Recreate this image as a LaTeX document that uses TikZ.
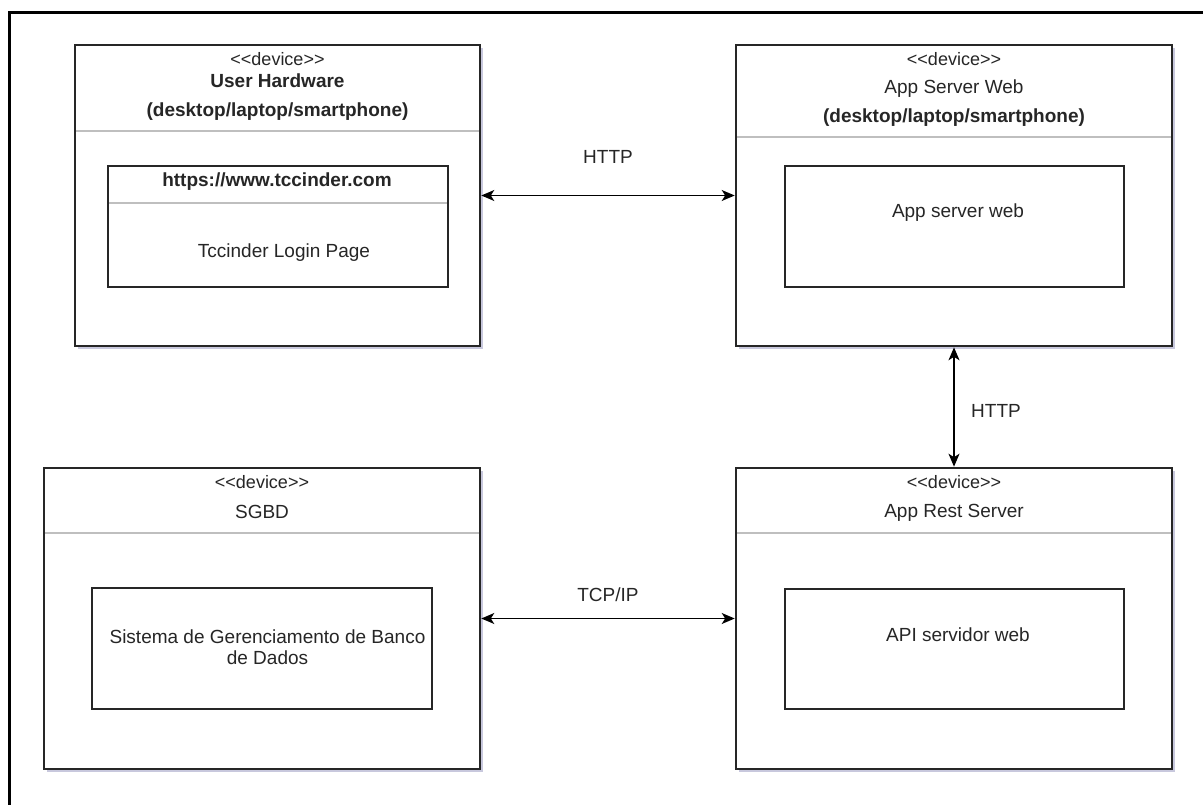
\documentclass[tikz,border=0pt]{standalone}
\usepackage{fontspec}
\setmainfont{Liberation Sans}
\usepackage{tikz}
\usetikzlibrary{arrows.meta}
\usetikzlibrary{shadows}

\newcommand{\devtag}{<\kern0pt<device>\kern0pt>}

\tikzset{
  devbox/.style={draw=black!85, line width=2.6pt, fill=white, inner sep=0pt,
    drop shadow={shadow xshift=3pt, shadow yshift=-3pt, fill=blue!25!gray, opacity=0.35}},
  partbox/.style={draw=black!85, line width=2.6pt, fill=white, inner sep=0pt},
  sepline/.style={draw=gray!50, line width=1.2pt},
  tag/.style={inner sep=0pt, anchor=base, text=black!85, font=\fontsize{18}{21}\selectfont},
  txt/.style={inner sep=0pt, anchor=base, text=black!85, font=\fontsize{19}{21}\selectfont},
  btxt/.style={txt, font=\fontsize{19}{21}\selectfont\bfseries},
  link/.style={<->, >={Stealth[length=13pt,width=11pt,inset=3.5pt]}, line width=1.5pt},
}

\begin{document}
\begin{tikzpicture}[x=1pt, y=-1pt]
\useasboundingbox (0,0) rectangle (1203,805);
\draw[line width=3pt] (9.5,805) -- (9.5,12.5) -- (1203,12.5);

% devices
\node (uh) [devbox, minimum width=405pt, minimum height=301pt] at (277.5,195.5) {};
\node (asw) [devbox, minimum width=436pt, minimum height=301pt] at (954,195.5) {};
\node (sgbd) [devbox, minimum width=436pt, minimum height=301pt] at (262,618.5) {};
\node (ars) [devbox, minimum width=436pt, minimum height=301pt] at (954,618.5) {};
\draw[sepline] (76,131) -- (479,131);
\draw[sepline] (737,137) -- (1171,137);
\draw[sepline] (45,533) -- (479,533);
\draw[sepline] (737,533) -- (1171,533);

% parts
\node (url) [partbox, minimum width=340pt, minimum height=121pt] at (278,226.5) {};
\node (web) [partbox, minimum width=339pt, minimum height=121pt] at (954.5,226.5) {};
\node (dbms) [partbox, minimum width=340pt, minimum height=121pt] at (262,648.5) {};
\node (api) [partbox, minimum width=339pt, minimum height=120pt] at (954.5,649) {};
\draw[sepline] (109,203) -- (447,203);

% texts
\node (uh1) [tag] at (277.5,66) {\devtag};
\node (uh2) [btxt] at (277.5,88) {User Hardware};
\node (uh3) [btxt] at (277.5,117) {(desktop/laptop/smartphone)};
\node (url1) [btxt] at (277,187) {https://www.tccinder.com};
\node (url2) [txt] at (284,258) {Tccinder Login Page};
\node (asw1) [tag] at (954,66) {\devtag};
\node (asw2) [txt] at (954,94) {App Server Web};
\node (asw3) [btxt] at (954,123) {(desktop/laptop/smartphone)};
\node (web1) [txt] at (958,218) {App server web};
\node (sgbd1) [tag] at (262,488) {\devtag};
\node (sgbd2) [txt] at (262,518) {SGBD};
\node (dbms1) [txt, anchor=center, align=center] at (267.5,647) {Sistema de Gerenciamento de Banco\\de Dados};
\node (ars1) [tag] at (954,488) {\devtag};
\node (ars2) [txt] at (954,517) {App Rest Server};
\node (api1) [txt] at (958,641) {API servidor web};

% links
\draw[link] (uh.east) -- (asw.west);
\draw[link] (asw.south) -- (ars.north);
\draw[link] (sgbd.east) -- (ars.west);
\node (l1) [txt] at (608,164) {HTTP};
\node (l2) [txt] at (996,417) {HTTP};
\node (l3) [txt] at (608,601) {TCP/IP};
\end{tikzpicture}
\end{document}
